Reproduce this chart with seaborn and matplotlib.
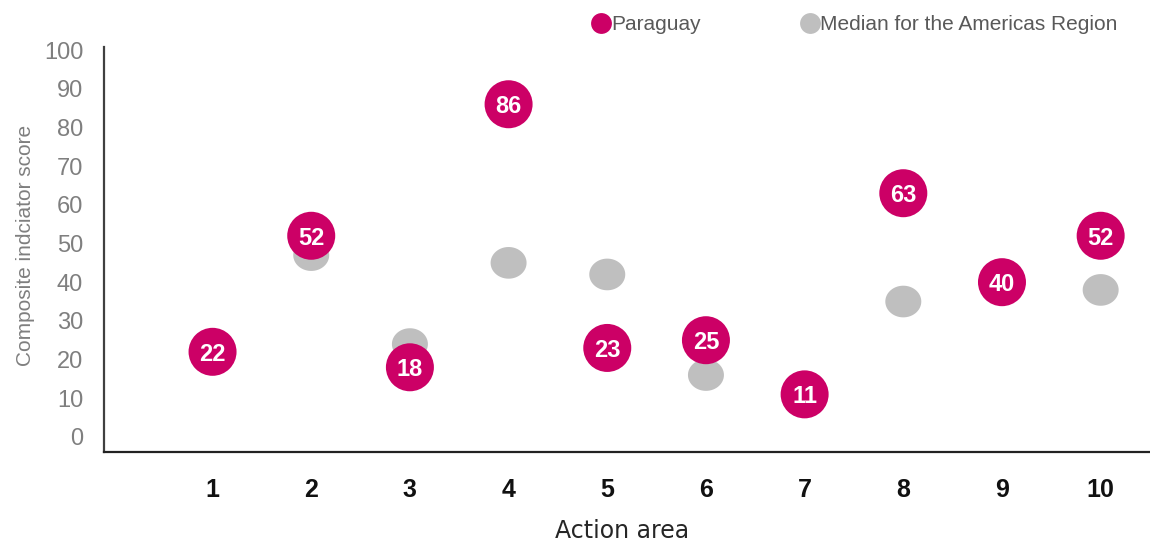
import numpy as np
import pandas as pd
import matplotlib
matplotlib.use("Agg")
import matplotlib.pyplot as plt
from matplotlib.path import Path
import seaborn as sns

# Action areas and composite indicator scores
action_areas = [1, 2, 3, 4, 5, 6, 7, 8, 9, 10]
paraguay = [22, 52, 18, 86, 23, 25, 11, 63, 40, 52]
americas_median = [21, 47, 24, 45, 42, 16, 10, 35, 39, 38]
y_ticks = [0, 10, 20, 30, 40, 50, 60, 70, 80, 90, 100]
series_names = ["Paraguay", "Median for the Americas Region"]

PINK = "#CC0066"
GREY = "#BFBFBF"
TEXT_GREY = "#7F7F7F"

sns.set_theme(style="white")
SANS = ["Liberation Sans", "DejaVu Sans"]
plt.rcParams["font.family"] = SANS

df = pd.DataFrame({
    "area": action_areas * 2,
    "score": paraguay + americas_median,
    "series": [series_names[0]] * len(action_areas)
              + [series_names[1]] * len(action_areas),
})

fig = plt.figure(figsize=(11.5, 5.46), dpi=100)
ax = fig.add_axes([104 / 1150, (546 - 452) / 546, 1 - 104 / 1150, (452 - 47) / 546])

# slightly flattened disc for the regional median
theta = np.linspace(0, 2 * np.pi, 60)
ellipse = Path(np.column_stack([np.cos(theta), 0.88 * np.sin(theta)]), closed=True)

sns.scatterplot(data=df[df.series == series_names[1]], x="area", y="score",
                marker=ellipse, s=(36 * 0.72) ** 2, color=GREY,
                edgecolor="none", ax=ax, legend=False, zorder=2)
sns.scatterplot(data=df[df.series == series_names[0]], x="area", y="score",
                marker="o", s=(48 * 0.72) ** 2, color=PINK,
                edgecolor="none", ax=ax, legend=False, zorder=3)

for x, v in zip(action_areas, paraguay):
    ax.text(x, v, f"{v}", ha="center", va="center_baseline", color="white",
            fontsize=17, fontweight="bold", zorder=4)

ax.set_xlim(-0.1, 10.5)
ax.set_ylim(-3.9, 100.8)
ax.set_yticks(y_ticks)
ax.set_yticklabels([str(t) for t in y_ticks], color=TEXT_GREY, fontsize=17)
ax.set_xticks(action_areas)
ax.set_xticklabels([str(a) for a in action_areas], fontsize=18,
                   fontweight="bold", color="#111111")
ax.tick_params(axis="x", length=0, pad=19)
ax.tick_params(axis="y", length=0, pad=15)

for side in ["top", "right"]:
    ax.spines[side].set_visible(False)
ax.spines["left"].set_color("#404040")
ax.spines["left"].set_linewidth(1.6)
ax.spines["bottom"].set_color("#222222")
ax.spines["bottom"].set_linewidth(1.6)
ax.grid(False)

ax.set_ylabel("Composite indciator score", color=TEXT_GREY, fontsize=15)
ax.yaxis.set_label_coords(-0.066, 0.51)
ax.set_xlabel("Action area", color="#262626", fontsize=17, family=["DejaVu Sans"])
ax.xaxis.set_label_coords(0.495, -0.165)

# legend row across the top
legend_y = 1 - 23 / 546
for (name, color, mx, tx) in [(series_names[0], PINK, 601, 611),
                              (series_names[1], GREY, 810, 820)]:
    fig.add_artist(plt.Line2D([mx / 1150], [legend_y], marker="o", markersize=15,
                              color=color, markeredgewidth=0, linestyle="",
                              transform=fig.transFigure))
    fig.text(tx / 1150, legend_y, name, ha="left", va="center_baseline",
             fontsize=15, color="#595959")

fig.savefig("out.png", dpi=100, facecolor="white")
